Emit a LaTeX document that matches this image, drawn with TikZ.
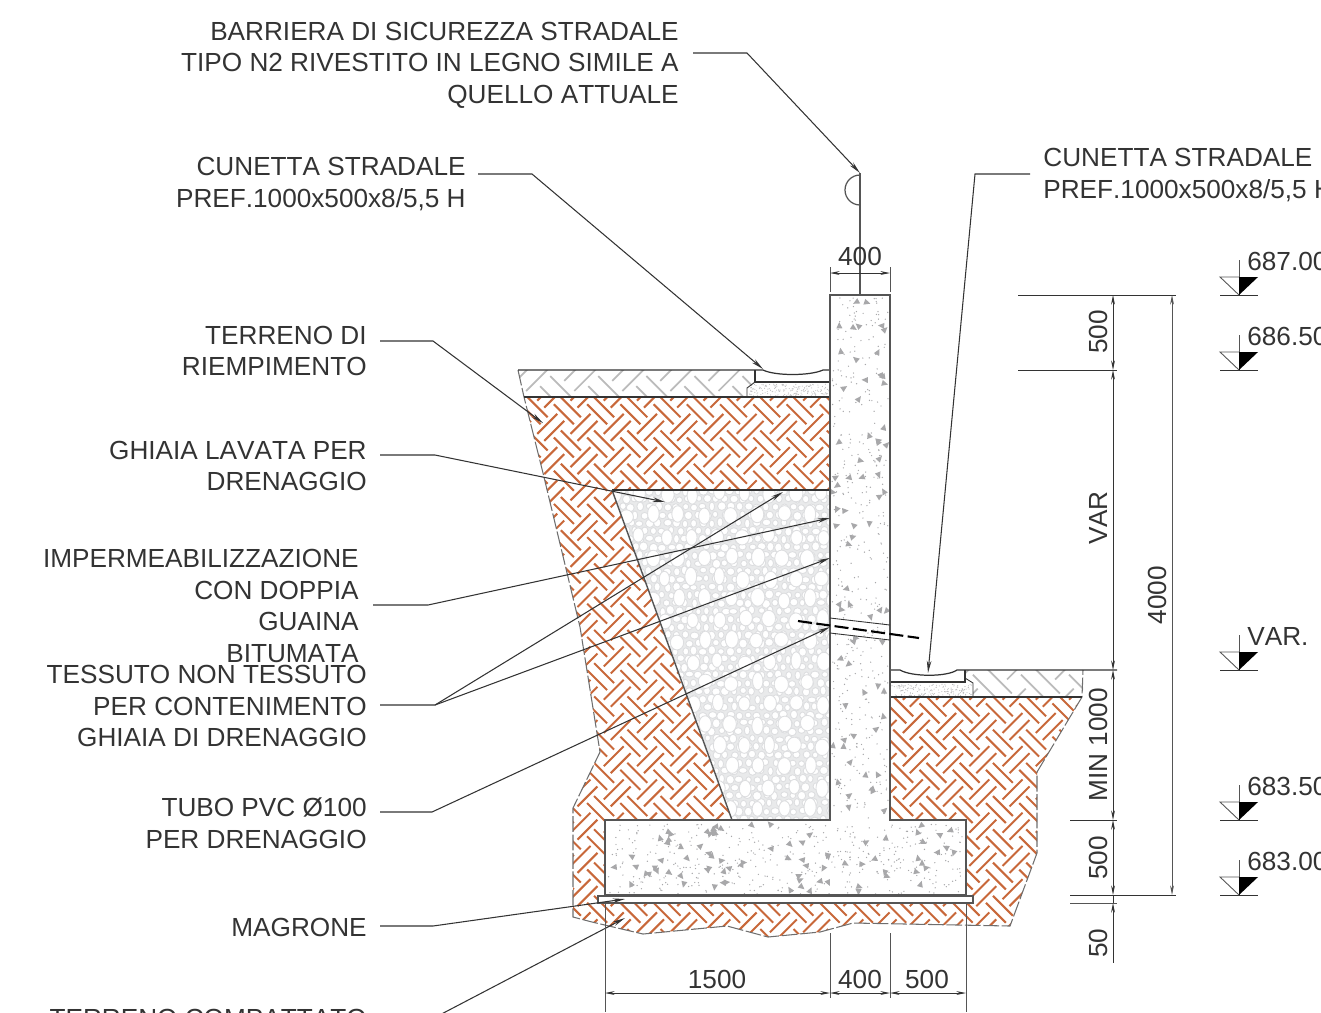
\documentclass[tikz,border=0pt]{standalone}
\usepackage{fontspec}
\setmainfont[Kerning=Off]{Liberation Sans}
\usetikzlibrary{arrows.meta}
\definecolor{inkdark}{HTML}{333333}
\definecolor{wallgray}{HTML}{555555}
\definecolor{soilorange}{HTML}{C8683A}
\definecolor{hatchgray}{HTML}{BBBBBB}
\definecolor{speckgray}{HTML}{A8A8AA}
\definecolor{stonegray}{HTML}{DDDEE0}
\tikzset{
    lbltext/.style={text=inkdark, inner sep=0pt, font=\fontsize{14.9}{18}\selectfont},
    leader/.style={draw=inkdark, line width=0.6pt, -{Stealth[length=7pt,width=2.6pt]}},
    dimline/.style={draw=inkdark, line width=0.5pt, {Stealth[length=5.5pt,width=2.2pt]}-{Stealth[length=5.5pt,width=2.2pt]}},
    extline/.style={draw=inkdark, line width=0.5pt},
    wall/.style={draw=wallgray, line width=1.1pt, line join=miter},
    soilline/.style={draw=soilorange, line width=1.15pt},
    hatchline/.style={draw=hatchgray, line width=1pt},
    edgeline/.style={draw=wallgray!85, line width=0.6pt, dash pattern=on 9pt off 1.5pt},
    stone/.style={draw=stonegray, fill=white, line width=0.5pt},
}
% weave of crossing tiles: style, tile size
\newcommand{\weave}[2]{
    \begin{scope}[shift={(800,660)}, rotate=45]
        \pgfmathtruncatemacro{\tilemax}{430/#2}
        \foreach \i in {-\tilemax,...,\tilemax}{
            \foreach \j in {-\tilemax,...,\tilemax}{
                \pgfmathtruncatemacro{\tileodd}{mod(\i+\j+80,2)}
                \foreach \off in {0.29,0.71}{
                    \ifnum\tileodd=0
                        \draw[#1] ({(\i-0.1)*#2},{(\j+\off)*#2}) -- ({(\i+1.1)*#2},{(\j+\off)*#2});
                    \else
                        \draw[#1] ({(\i+\off)*#2},{(\j-0.1)*#2}) -- ({(\i+\off)*#2},{(\j+1.1)*#2});
                    \fi
                }
            }
        }
    \end{scope}
}
% random dots: x, y, width, height, count, radius, colour
\newcommand{\specks}[7]{
    \foreach \n in {1,...,#5}{
        \pgfmathsetmacro{\dotx}{#1+rnd*#3}
        \pgfmathsetmacro{\doty}{#2+rnd*#4}
        \fill[#7] (\dotx,\doty) circle [radius=#6];
    }
}
% random blobs: x, y, width, height, count
\newcommand{\blobs}[5]{
    \foreach \n in {1,...,#5}{
        \pgfmathsetmacro{\dotx}{#1+rnd*#3}
        \pgfmathsetmacro{\doty}{#2+rnd*#4}
        \pgfmathsetmacro{\dotrot}{rnd*360}
        \fill[speckgray, rotate around={\dotrot:(\dotx,\doty)}] (\dotx,\doty) ++(-3,-2.5) -- ++(6.5,2.5) -- ++(-6,3.5) -- cycle;
    }
}
\begin{document}
\begin{tikzpicture}[x=0.02cm, y=-0.02cm]
        \path[use as bounding box, clip] (0,0) rectangle (1321,1012);
        \pgfmathsetseed{17}

        % Compacted soil
        \begin{scope}
            \clip (524,397) -- (543,473) -- (580,627) -- (600,752) -- (573,808) -- (573,917) -- (592,922) -- (643,934) -- (727,926) -- (768,937) -- (820,932) -- (853,923) -- (1010,926) -- (1037,853) -- (1037,772) -- (1082,697) -- (890,697) -- (830,397) -- cycle;
            \weave{soilline}{23.5}
        \end{scope}

        % Road surface hatch
        \begin{scope}
            \clip (518,370) -- (755,370) -- (755,382) -- (747,390) -- (747,397) -- (524,397) -- cycle;
            \weave{hatchline}{34}
        \end{scope}
        \begin{scope}
            \clip (965,670) -- (1083,670) -- (1083,697) -- (973,697) -- (973,683) -- (965,678) -- cycle;
            \weave{hatchline}{34}
        \end{scope}

        % Gravel
        \begin{scope}
            \clip (612,490) -- (830,490) -- (830,820) -- (732,820) -- cycle;
            \fill[stonegray!65] (600,490) rectangle (830,820);
            \foreach \col in {0,...,25}{
                \foreach \row in {0,...,42}{
                    \pgfmathsetmacro{\gx}{612+\col*9+mod(\row,2)*4+rnd*2}
                    \pgfmathsetmacro{\gy}{490+\row*8+rnd*2}
                    \pgfmathsetmacro{\grx}{2.6+rnd*1.8}
                    \pgfmathsetmacro{\gry}{2.8+rnd*1.8}
                    \draw[stone] (\gx,\gy) ellipse [x radius=\grx, y radius=\gry];
                }
            }
            \foreach \col in {0,...,8}{
                \foreach \row in {0,...,16}{
                    \pgfmathsetmacro{\gx}{612+\col*26+mod(\row,2)*13+rnd*4}
                    \pgfmathsetmacro{\gy}{492+\row*21+rnd*4}
                    \pgfmathsetmacro{\grx}{5+rnd*2.2}
                    \pgfmathsetmacro{\gry}{7+rnd*2.2}
                    \draw[stone] (\gx,\gy) ellipse [x radius=\grx, y radius=\gry];
                }
            }
        \end{scope}

        % Concrete wall and footing
        \fill[white] (830,295) -- (890,295) -- (890,820) -- (966,820) -- (966,895) -- (605,895) -- (605,820) -- (830,820) -- cycle;
        \blobs{832}{298}{55}{520}{70}
        \blobs{608}{824}{355}{68}{80}
        \specks{832}{298}{56}{520}{380}{0.7}{speckgray}
        \specks{608}{824}{355}{70}{400}{0.7}{speckgray}

        % Sand under the gutters
        \specks{749}{384}{80}{12}{170}{0.55}{speckgray!80}
        \specks{892}{684}{80}{12}{170}{0.55}{speckgray!80}

        % Soil edges
        \draw[edgeline] (518,370) -- (524,397) -- (543,473) -- (580,627) -- (600,752) -- (573,808) -- (573,917) -- (592,922) -- (643,934) -- (727,926) -- (768,937) -- (820,932) -- (853,923) -- (1010,926) -- (1037,853) -- (1037,772) -- (1082,697) -- (1083,670);

        % Ground lines and gutters
        \draw[extline, line width=0.7pt] (518,370) -- (763,370) .. controls (775,376) and (810,376) .. (823,370) -- (830,370);
        \draw[extline, line width=0.7pt] (755,370) -- (755,382) -- (830,382);
        \draw[extline] (755,382) -- (747,388) -- (747,397);
        \draw[extline, line width=0.7pt] (524,397) -- (830,397);
        \draw[extline, line width=0.7pt] (890,670) -- (900,670) .. controls (912,677) and (947,677) .. (957,670) -- (1117,670);
        \draw[extline, line width=0.7pt] (965,670) -- (965,682) -- (890,682);
        \draw[extline] (965,678) -- (973,683) -- (973,697);
        \draw[extline, line width=0.7pt] (890,697) -- (1082,697);
        \draw[extline, line width=0.7pt] (612,490) -- (830,490);
        \draw[draw=wallgray, line width=0.8pt] (612,490) -- (732,820);

        % Magrone
        \draw[draw=wallgray, line width=0.8pt, fill=white] (598,896) rectangle (973,903);

        % Wall outline
        \draw[wall] (830,820) -- (830,295) -- (890,295) -- (890,820) -- (966,820) -- (966,895) -- (605,895) -- (605,820) -- cycle;

        % Drain pipe
        \draw[extline] (830,618) -- (890,625);
        \draw[extline] (830,633) -- (890,640);
        \draw[draw=black, line width=1.2pt, dash pattern=on 8pt off 2.5pt] (798,621) -- (919,638);

        % Safety barrier
        \coordinate (postTop) at (860,173);
        \coordinate (postFoot) at (860,295);
        \draw[draw=wallgray, line width=0.7pt] (postTop) -- (postFoot);
        \draw[draw=wallgray, line width=0.7pt] (860,175) arc [start angle=-90, end angle=-270, radius=15];

        % Labels on the left
        \node at (679,65) (lblBarriera) [lbltext, anchor=east, align=right] {BARRIERA DI SICUREZZA STRADALE\\TIPO N2 RIVESTITO IN LEGNO SIMILE A\\QUELLO ATTUALE};
        \node at (466,184) (lblCunettaL) [lbltext, anchor=east, align=right] {CUNETTA STRADALE\\PREF.1000x500x8/5,5 H};
        \node at (367,351) (lblRiemp) [lbltext, anchor=east, align=right] {TERRENO DI\\RIEMPIMENTO};
        \node at (367,466) (lblGhiaia) [lbltext, anchor=east, align=right] {GHIAIA LAVATA PER\\DRENAGGIO};
        \node at (359,606) (lblImperm) [lbltext, anchor=east, align=right] {IMPERMEABILIZZAZIONE\\CON DOPPIA\\GUAINA\\BITUMATA};
        \node at (367,706) (lblTessuto) [lbltext, anchor=east, align=right] {TESSUTO NON TESSUTO\\PER CONTENIMENTO\\GHIAIA DI DRENAGGIO};
        \node at (367,823) (lblTubo) [lbltext, anchor=east, align=right] {TUBO PVC Ø100\\PER DRENAGGIO};
        \node at (367,927) (lblMagrone) [lbltext, anchor=east, align=right] {MAGRONE};
        \node at (367,1018) (lblCompatto) [lbltext, anchor=east, align=right] {TERRENO COMPATTATO};

        % Label on the right
        \node at (1043,175) (lblCunettaR) [lbltext, anchor=west, align=left] {CUNETTA STRADALE\\PREF.1000x500x8/5,5 H};

        % Leader knees and tips
        \coordinate (kneeBarriera) at (747,53);
        \coordinate (kneeCunettaL) at (532,174);
        \coordinate (tipCunettaL) at (763,369);
        \coordinate (kneeRiemp) at (433,341);
        \coordinate (tipRiemp) at (543,423);
        \coordinate (kneeGhiaia) at (435,455);
        \coordinate (tipGhiaia) at (665,502);
        \coordinate (kneeImperm) at (428,605);
        \coordinate (tipImperm) at (830,518);
        \coordinate (kneeTessuto) at (435,705);
        \coordinate (tipTessutoA) at (783,492);
        \coordinate (tipTessutoB) at (830,558);
        \coordinate (kneeTubo) at (432,812);
        \coordinate (tipTubo) at (830,627);
        \coordinate (kneeMagrone) at (433,926);
        \coordinate (tipMagrone) at (625,899);
        \coordinate (kneeCompatto) at (430,1020);
        \coordinate (tipCompatto) at (625,918);
        \coordinate (kneeCunettaR) at (975,174);
        \coordinate (tipCunettaR) at (928,673);

        % Leaders
        \draw[leader] ([shift={(14,-12)}]lblBarriera.east) -- (kneeBarriera) -- (postTop);
        \draw[leader] ([shift={(12,-10)}]lblCunettaL.east) -- (kneeCunettaL) -- (tipCunettaL);
        \draw[leader] ([shift={(13,-10)}]lblRiemp.east) -- (kneeRiemp) -- (tipRiemp);
        \draw[leader] ([shift={(13,-11)}]lblGhiaia.east) -- (kneeGhiaia) -- (tipGhiaia);
        \draw[leader] ([shift={(14,-1)}]lblImperm.east) -- (kneeImperm) -- (tipImperm);
        \draw[leader] ([shift={(13,-1)}]lblTessuto.east) -- (kneeTessuto) -- (tipTessutoA);
        \draw[leader] (kneeTessuto) -- (tipTessutoB);
        \draw[leader] ([shift={(13,-11)}]lblTubo.east) -- (kneeTubo) -- (tipTubo);
        \draw[leader] ([shift={(13,-1)}]lblMagrone.east) -- (kneeMagrone) -- (tipMagrone);
        \draw[leader] ([shift={(13,2)}]lblCompatto.east) -- (kneeCompatto) -- (tipCompatto);
        \draw[leader] ([shift={(-13,-1)}]lblCunettaR.west) -- (kneeCunettaR) -- (tipCunettaR);

        % Dimension points on the right
        \coordinate (dimA) at (1113,295);
        \coordinate (dimB) at (1113,370);
        \coordinate (dimC) at (1113,670);
        \coordinate (dimD) at (1113,820);
        \coordinate (dimE) at (1113,895);
        \coordinate (dimF) at (1113,903);
        \coordinate (dimG) at (1113,963);
        \coordinate (totalTop) at (1172,295);
        \coordinate (totalFoot) at (1172,895);

        % Extension lines on the right
        \draw[extline] (1018,295) -- (1176,295);
        \draw[extline] (1018,370) -- (1117,370);
        \draw[extline] (1070,820) -- (1117,820);
        \draw[extline] (1070,895) -- (1176,895);
        \draw[extline, draw=wallgray] (1070,903) -- (1117,903);

        % Dimensions on the right
        \draw[dimline] (dimA) -- (dimB);
        \draw[dimline] (dimB) -- (dimC);
        \draw[dimline] (dimC) -- (dimD);
        \draw[dimline] (dimD) -- (dimE);
        \draw[extline] (dimE) -- (dimF);
        \draw[extline, {Stealth[length=5.5pt,width=2.2pt]}-] (dimF) -- (dimG);
        \draw[dimline, draw=wallgray] (totalTop) -- (totalFoot);
        \node at (1098,332) (txtA) [lbltext, rotate=90] {500};
        \node at (1098,518) (txtB) [lbltext, rotate=90] {VAR};
        \node at (1098,745) (txtC) [lbltext, rotate=90] {MIN 1000};
        \node at (1098,858) (txtD) [lbltext, rotate=90] {500};
        \node at (1098,943) (txtE) [lbltext, rotate=90] {50};
        \node at (1157,595) (txtTotal) [lbltext, rotate=90] {4000};

        % Top dimension
        \coordinate (topL) at (830,273);
        \coordinate (topR) at (890,273);
        \draw[extline, draw=wallgray] (830,267) -- (830,292);
        \draw[extline, draw=wallgray] (890,267) -- (890,292);
        \draw[dimline] (topL) -- (topR);
        \node at (860,256) (txtTop) [lbltext] {400};

        % Bottom dimensions
        \coordinate (botA) at (605,993);
        \coordinate (botB) at (830,993);
        \coordinate (botC) at (890,993);
        \coordinate (botD) at (966,993);
        \draw[extline, draw=wallgray] (605,903) -- (605,1012);
        \draw[extline, draw=wallgray] (830,933) -- (830,998);
        \draw[extline, draw=wallgray] (890,933) -- (890,998);
        \draw[extline, draw=wallgray] (966,903) -- (966,1012);
        \draw[dimline] (botA) -- (botB);
        \draw[dimline] (botB) -- (botC);
        \draw[dimline] (botC) -- (botD);
        \node at (717,979) (txtBotA) [lbltext] {1500};
        \node at (860,979) (txtBotB) [lbltext] {400};
        \node at (927,979) (txtBotC) [lbltext] {500};

        % Level marks
        \foreach \lvl/\ypos/\txt in {a/295/687.00, b/370/686.50, c/670/VAR., d/820/683.50, e/895/683.00}{
            \draw[extline] (1220,\ypos) -- (1258,\ypos);
            \draw[draw=wallgray, line width=0.5pt] (1239,\ypos-35) -- (1239,\ypos);
            \draw[draw=wallgray, line width=0.5pt] (1239,\ypos) -- (1220,\ypos-18) -- (1239,\ypos-18);
            \fill[black] (1239,\ypos) -- (1258,\ypos-18) -- (1239,\ypos-18) -- cycle;
            \node at (1247,\ypos-34) (lvl\lvl) [lbltext, anchor=west] {\txt};
        }
    \end{tikzpicture}
\end{document}
